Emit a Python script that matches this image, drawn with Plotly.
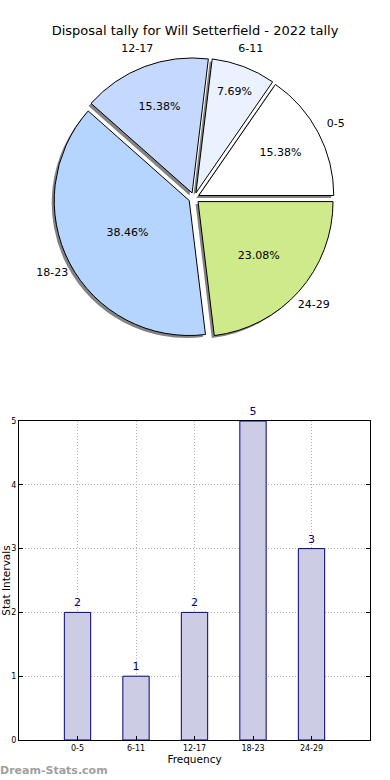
import plotly.graph_objects as go

categories = ["0-5", "6-11", "12-17", "18-23", "24-29"]
counts = [2, 1, 2, 5, 3]
slice_colors = ["#FFFFFF", "#EAF1FF", "#C5D9FF", "#B5D5FF", "#CFEA8A"]
y_ticks = [0, 1, 2, 3, 4, 5]

W, H = 390, 780

def px_x(a, b):
    return [a / W, b / W]

def px_y(top, bottom):
    return [1 - bottom / H, 1 - top / H]

cx, cy, R = 194, 198, 135
pull = 0.04
half = R * (1 + pull)
rot = 34.62

fig = go.Figure()

# shadow
sh = 2.5
fig.add_trace(go.Pie(
    labels=categories, values=counts, sort=False, direction="counterclockwise",
    rotation=rot, pull=[pull] * len(counts),
    marker=dict(colors=["rgba(90,90,90,0.75)"] * len(counts), line=dict(width=0)),
    textinfo="none", hoverinfo="skip", showlegend=False,
    domain=dict(x=px_x(cx - half - sh, cx + half - sh), y=px_y(cy - half + sh, cy + half + sh)),
))

# main pie with percentages
fig.add_trace(go.Pie(
    labels=categories, values=counts, sort=False, direction="counterclockwise",
    rotation=rot, pull=[pull] * len(counts),
    marker=dict(colors=slice_colors, line=dict(color="#000000", width=1)),
    texttemplate="%{percent:.2%}", textposition="inside", insidetextorientation="horizontal",
    textfont=dict(family="DejaVu Sans", size=11, color="#000000"),
    showlegend=False,
    domain=dict(x=px_x(cx - half, cx + half), y=px_y(cy - half, cy + half)),
))

# label ring (transparent) for outside category labels
outer = R * 1.32
inner = R * 1.05
fig.add_trace(go.Pie(
    labels=categories, values=counts, sort=False, direction="counterclockwise",
    rotation=rot, hole=inner / outer,
    marker=dict(colors=["rgba(0,0,0,0)"] * len(counts), line=dict(width=0)),
    texttemplate="%{label}", textposition="inside", insidetextorientation="horizontal",
    textfont=dict(family="DejaVu Sans", size=11, color="#000000"),
    hoverinfo="skip", showlegend=False,
    domain=dict(x=px_x(cx - outer, cx + outer), y=px_y(cy - outer, cy + outer)),
))

# bar chart
fig.add_trace(go.Bar(
    x=categories, y=counts, width=0.45,
    marker=dict(color="#CCCCE4", line=dict(color="#000080", width=1)),
    text=[str(v) for v in counts], textposition="outside",
    textfont=dict(family="DejaVu Sans", size=11, color="#000080"),
    cliponaxis=False, showlegend=False,
    xaxis="x", yaxis="y",
))

grid_dash = "1px,2px"

fig.update_layout(
    width=W, height=H,
    margin=dict(l=0, r=0, t=0, b=0),
    paper_bgcolor="white", plot_bgcolor="white",
    font=dict(family="DejaVu Sans", color="#000000"),
    title=dict(text="Disposal tally for Will Setterfield - 2022 tally",
               x=0.5, xanchor="center", y=1 - 30 / H, yanchor="middle",
               font=dict(size=13, color="#000000")),
    xaxis=dict(
        domain=px_x(19, 370), anchor="y", type="category",
        range=[-1, 5], automargin=False,
        showline=True, linecolor="#000000", linewidth=1, mirror=True,
        ticks="inside", ticklen=4, tickcolor="#000000",
        showgrid=True, gridcolor="#B0B0B0", griddash=grid_dash, gridwidth=1,
        tickfont=dict(size=8, color="#000000"),
        title=dict(text="Frequency", font=dict(size=10.5), standoff=4),
        zeroline=False,
    ),
    yaxis=dict(
        domain=px_y(421, 740), anchor="x",
        range=[0, 5], tickvals=y_ticks, automargin=False,
        showline=True, linecolor="#000000", linewidth=1, mirror="ticks",
        ticks="inside", ticklen=4, tickcolor="#000000",
        showgrid=True, gridcolor="#B0B0B0", griddash=grid_dash, gridwidth=1,
        tickfont=dict(size=8, color="#000000"),
        title=dict(text="Stat Intervals", font=dict(size=10.5), standoff=9),
        zeroline=False,
    ),
    annotations=[dict(
        text="<b>Dream-Stats.com</b>", x=-0.005, y=1 - 770 / H, xref="paper", yref="paper",
        xanchor="left", yanchor="middle", showarrow=False,
        font=dict(size=11, color="#A0A0A0"),
    )],
)

fig.write_html("out.html", config={"displayModeBar": False},
               post_script="document.body.style.margin='0';")
